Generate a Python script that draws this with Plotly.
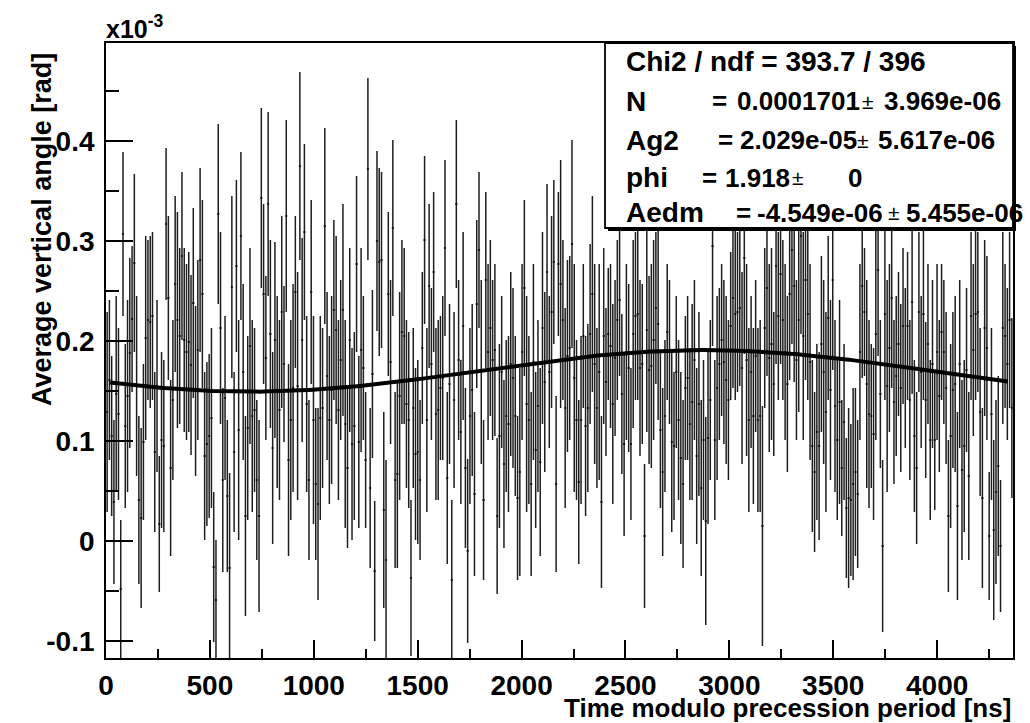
import numpy as np
import plotly.graph_objects as go

# ---------------- data (units of 1e-3 rad) ----------------
t_min, t_max = 0.0, 4365.0          # time modulo precession period [ns]
n_bins = 400

angle_mean = [
    # 0-39
    0.129, 0.161, 0.105, 0.039, 0.147, 0.127, -0.048, 0.307, 0.115, 0.145,
    0.188, 0.222, 0.278, 0.155, 0.041, 0.023, 0.099, 0.203, 0.221, 0.219,
    0.225, 0.089, 0.155, 0.017, 0.101, 0.095, 0.317, 0.243, 0.073, 0.141,
    0.257, 0.221, 0.205, 0.285, 0.201, 0.189, 0.199, 0.176, 0.238, 0.150,
    # 40-79
    0.191, 0.281, 0.247, 0.085, 0.097, 0.105, 0.123, -0.026, -0.059, 0.327,
    0.213, 0.061, 0.143, 0.045, -0.027, 0.254, 0.089, 0.275, 0.111, 0.305,
    0.169, 0.025, 0.113, 0.195, 0.125, 0.131, 0.061, 0.025, 0.343, 0.247,
    0.183, 0.337, 0.207, 0.093, 0.201, 0.149, 0.131, 0.229, 0.177, 0.325,
    # 80-119
    0.081, 0.121, 0.153, 0.249, 0.155, 0.375, 0.201, 0.309, 0.137, 0.061,
    0.249, 0.121, 0.057, 0.037, 0.123, 0.133, 0.315, 0.165, 0.121, 0.151,
    0.231, 0.211, 0.131, 0.181, 0.231, 0.117, 0.073, 0.201, 0.097, 0.115,
    0.277, 0.099, 0.191, 0.173, 0.081, 0.372, 0.053, 0.167, -0.030, 0.300,
    # 120-159
    0.279, 0.281, 0.031, -0.019, 0.247, 0.179, 0.313, 0.061, 0.067, 0.145,
    0.209, 0.205, 0.137, 0.121, -0.037, 0.133, 0.087, 0.089, 0.061, 0.193,
    0.301, 0.121, 0.255, 0.177, 0.269, 0.127, 0.131, 0.153, 0.163, 0.293,
    0.063, 0.157, -0.039, 0.141, 0.337, 0.181, 0.109, 0.215, 0.073, -0.010,
    # 160-199
    0.125, 0.151, 0.047, 0.237, 0.291, 0.169, 0.041, 0.261, 0.189, 0.213,
    0.181, 0.191, 0.025, 0.105, 0.169, 0.077, 0.125, 0.117, 0.177, 0.163,
    0.125, 0.043, 0.069, 0.189, 0.253, 0.137, 0.121, 0.057, 0.179, 0.091,
    0.135, 0.079, 0.213, 0.159, 0.269, 0.169, 0.229, 0.279, 0.057, 0.277,
    # 200-239
    0.257, 0.221, 0.133, 0.185, 0.193, 0.297, 0.163, 0.121, 0.059, 0.121,
    0.205, 0.115, 0.133, 0.207, 0.247, 0.177, 0.133, 0.169, 0.039, 0.205,
    0.159, 0.207, 0.195, 0.137, 0.183, 0.221, 0.241, 0.147, 0.097, 0.189,
    0.173, 0.097, 0.207, 0.225, 0.227, 0.173, 0.177, 0.005, 0.211, 0.171,
    # 240-279
    0.175, 0.201, 0.233, 0.217, 0.111, 0.069, 0.125, 0.209, 0.189, 0.099,
    0.095, 0.169, 0.121, 0.083, 0.057, 0.153, 0.163, 0.117, 0.139, 0.181,
    0.085, 0.137, 0.053, 0.101, 0.020, 0.103, 0.141, 0.295, 0.101, 0.153,
    0.177, 0.201, 0.179, 0.161, 0.141, 0.215, 0.243, 0.227, 0.229, 0.233,
    # 280-319
    0.173, 0.283, 0.181, 0.121, 0.169, 0.125, 0.185, 0.121, 0.125, 0.015,
    0.213, 0.253, 0.183, 0.197, 0.157, 0.275, 0.225, 0.267, 0.221, 0.189,
    0.157, 0.247, 0.291, 0.255, 0.181, 0.221, 0.305, 0.205, 0.261, 0.227,
    0.179, 0.095, 0.069, 0.109, 0.095, 0.197, 0.169, 0.129, 0.223, 0.151,
    # 320-359
    0.261, 0.135, 0.101, 0.139, 0.073, 0.119, 0.033, 0.043, 0.041, 0.057,
    0.069, 0.047, 0.189, 0.255, 0.229, 0.157, 0.127, 0.125, 0.107, 0.207,
    0.271, 0.147, -0.005, 0.227, 0.155, 0.193, 0.243, 0.139, 0.165, 0.197,
    0.153, 0.215, 0.173, 0.215, 0.141, 0.239, 0.105, 0.073, 0.229, 0.169,
    # 360-399
    0.227, 0.141, 0.197, 0.101, 0.177, 0.101, 0.189, 0.145, 0.209, 0.189,
    0.153, 0.025, 0.105, 0.151, 0.157, 0.035, 0.177, 0.071, 0.095, 0.171,
    0.065, 0.225, 0.191, 0.227, 0.229, 0.129, 0.043, 0.213, 0.193, 0.005,
    0.127, 0.011, 0.049, 0.075, -0.005, 0.213, 0.205, 0.177, 0.221, 0.133,
]

angle_err = [
    .100, .080, .080, .082, .098, .086, .069, .082, .082, .096, .095, .073, .089, .090, .084, .090, .078, .102, .080, .086,
    .084, .080, .086, .068, .088, .086, .076, .082, .088, .080, .088, .108, .088, .084, .092, .088, .090, .090, .095, .085,
    .090, .092, .094, .084, .082, .082, .090, .075, .060, .090, .096, .092, .082, .076, .095, .091, .080, .086, .110, .084,
    .088, .100, .092, .098, .096, .082, .080, .096, .090, .090, .082, .092, .094, .096, .098, .096, .090, .096, .078, .096,
    .096, .100, .104, .076, .114, .094, .102, .088, .088, .080, .092, .104, .076, .096, .102, .080, .098, .084, .084, .094,
    .090, .094, .090, .080, .106, .104, .080, .092, .096, .094, .088, .086, .102, .072, .068, .091, .080, .084, .070, .090,
    .094, .088, .098, .100, .082, .082, .088, .088, .094, .104, .092, .088, .084, .088, .078, .080, .086, .092, .080, .076,
    .084, .092, .082, .076, .080, .086, .090, .072, .082, .088, .086, .080, .080, .088, .084, .080, .072, .094, .080, .092,
    .088, .086, .082, .084, .078, .092, .080, .088, .088, .088, .080, .086, .078, .092, .076, .084, .076, .088, .092, .090,
    .080, .082, .104, .088, .088, .108, .084, .092, .098, .078, .086, .094, .096, .090, .088, .076, .096, .082, .088, .072,
    .124, .080, .100, .096, .092, .104, .114, .080, .082, .084, .072, .090, .084, .090, .098, .100, .080, .108, .086, .088,
    .074, .066, .082, .100, .078, .080, .076, .080, .092, .088, .084, .076, .094, .084, .086, .088, .080, .072, .102, .094,
    .102, .100, .076, .096, .078, .084, .076, .068, .072, .090, .074, .076, .080, .086, .084, .072, .082, .076, .098, .080,
    .088, .092, .088, .080, .104, .086, .080, .100, .080, .092, .076, .076, .082, .084, .080, .074, .090, .086, .080, .078,
    .096, .096, .096, .092, .076, .088, .076, .092, .096, .120, .080, .088, .094, .096, .072, .098, .084, .090, .080, .088,
    .088, .086, .094, .096, .080, .092, .098, .104, .100, .086, .098, .086, .080, .088, .094, .088, .092, .100, .082, .090,
    .090, .086, .080, .102, .068, .078, .070, .090, .076, .096, .084, .074, .088, .092, .064, .104, .094, .072, .086, .106,
    .086, .074, .086, .086, .106, .084, .090, .082, .080, .072, .084, .078, .080, .074, .080, .092, .076, .076, .080, .076,
    .086, .078, .080, .080, .084, .070, .088, .076, .068, .072, .076, .076, .092, .078, .088, .094, .084, .090, .086, .082,
    .084, .084, .086, .086, .080, .084, .090, .088, .092, .064, .086, .090, .092, .090, .066, .096, .072, .076, .088, .090,
]

# fit parameters shown in the stats box (converted to 1e-3 rad)
fit_N = 0.1701
fit_Ag2 = 0.02029
fit_phi = 1.918
fit_Aedm = -0.004549
fit_range = [20.0, 4340.0]

x_ticks = [0, 500, 1000, 1500, 2000, 2500, 3000, 3500, 4000]
x_ticktext = ["0", "500", "1000", "1500", "2000", "2500", "3000", "3500", "4000"]
y_ticks = [-0.1, 0.0, 0.1, 0.2, 0.3, 0.4]
y_ticktext = ["-0.1", "0", "0.1", "0.2", "0.3", "0.4"]

stats_title = "Chi2 / ndf = 393.7 / 396"
stats_names = ["N", "Ag2", "phi", "Aedm"]
stats_values = ["0.0001701", "2.029e-05", "1.918", "-4.549e-06"]
stats_errors = ["3.969e-06", "5.617e-06", "0", "5.455e-06"]

# ---------------- build ----------------
n = min(len(angle_mean), len(angle_err))
bin_w = (t_max - t_min) / n_bins
t_centers = t_min + (np.arange(n) + 0.5) * bin_w

t_fit = np.linspace(fit_range[0], fit_range[1], 600)
omega = 2 * np.pi / (t_max - t_min)
y_fit = fit_N + fit_Ag2 * np.cos(omega * t_fit + fit_phi) + fit_Aedm * np.sin(omega * t_fit + fit_phi)

# pixel geometry of the frame
L, R, T, B = 106, 1013, 43, 658
W, H = 1030, 723


def px(x):
    return (x - L) / (R - L)


def py(y):
    return (B - y) / (B - T)


FONT = "Liberation Sans"
fig = go.Figure()

fig.add_trace(go.Scatter(
    x=t_centers, y=angle_mean[:n], mode="markers",
    marker=dict(size=2, color="#111"),
    error_y=dict(type="data", array=angle_err[:n], width=0, thickness=1.5, color="#1e1e1e"),
    error_x=dict(type="constant", value=bin_w / 2, width=0, thickness=1, color="#111"),
    showlegend=False, hoverinfo="skip",
))

fig.add_trace(go.Scatter(
    x=t_fit, y=y_fit, mode="lines", line=dict(color="black", width=4),
    showlegend=False, hoverinfo="skip",
))

tickfont = dict(family=FONT, size=28, color="black", weight="bold")

fig.update_layout(
    width=W, height=H,
    margin=dict(l=L, r=W - R, t=T, b=H - B, pad=0),
    paper_bgcolor="white", plot_bgcolor="white",
    xaxis=dict(
        range=[t_min, t_max], showgrid=False, zeroline=False,
        showline=True, mirror=True, linecolor="black", linewidth=1.8,
        ticks="inside", ticklen=18, tickwidth=1.5, tickcolor="black",
        tickmode="array", tickvals=x_ticks, ticktext=x_ticktext, tickfont=tickfont,
        ticklabelstandoff=1,
        minor=dict(dtick=250, tick0=0, ticks="inside", ticklen=9, tickwidth=1.5,
                   tickcolor="black", showgrid=False),
    ),
    yaxis=dict(
        range=[-0.117, 0.498], showgrid=False, zeroline=False,
        showline=True, mirror=True, linecolor="black", linewidth=1.8,
        ticks="inside", ticklen=27, tickwidth=1.5, tickcolor="black",
        tickmode="array", tickvals=y_ticks, ticktext=y_ticktext, tickfont=tickfont,
        ticklabelstandoff=4,
        minor=dict(dtick=0.05, tick0=0, ticks="inside", ticklen=13, tickwidth=1.5,
                   tickcolor="black", showgrid=False),
    ),
)

# stats box (shadow + box), drawn over the data
fig.add_shape(type="rect", xref="paper", yref="paper",
              x0=px(608), x1=px(1016), y0=py(231), y1=py(46),
              fillcolor="black", line=dict(width=0), layer="above")
fig.add_shape(type="rect", xref="paper", yref="paper",
              x0=px(605), x1=px(1013), y0=py(228), y1=py(43),
              fillcolor="white", line=dict(color="black", width=1.8), layer="above")

lfont = dict(family=FONT, size=28, color="black", weight="bold")
nfont = dict(family=FONT, size=26, color="black", weight="bold")
pmfont = dict(family=FONT, size=21, color="black")


def ann(text, x, y, font, anchor="left"):
    fig.add_annotation(text=text, x=px(x), y=py(y), xref="paper", yref="paper",
                       xanchor=anchor, yanchor="middle", showarrow=False, font=font)


ann(stats_title, 624, 62, lfont)
row_y = [101, 140, 178, 213]
eq_x = [710, 716, 700, 734]
num_x = [735, 738, 723, 755]
pm_x = [868, 863, 798, 894]
err_x = [882, 876, 846, 904]
for i in range(len(stats_names)):
    ann(stats_names[i], 624, row_y[i], lfont)
    ann("=", eq_x[i], row_y[i], nfont)
    ann(stats_values[i], num_x[i], row_y[i], nfont)
    ann("±", pm_x[i], row_y[i], pmfont, anchor="center")
    ann(stats_errors[i], err_x[i], row_y[i], nfont)

# axis titles and exponent
ann("Time modulo precession period [ns]", 1013, 708,
    dict(family=FONT, size=26, color="black", weight="bold"), anchor="right")
fig.add_annotation(text="Average vertical angle [rad]", x=px(42), y=py(230),
                   xref="paper", yref="paper", xanchor="center", yanchor="middle",
                   textangle=-90, showarrow=False,
                   font=dict(family=FONT, size=27, color="black", weight="bold"))
ann("x10<sup>-3</sup>", 104, 27, dict(family=FONT, size=25, color="black", weight="bold"))

fig.write_html("out.html", config={"displayModeBar": False},
               post_script="document.body.style.margin='0';document.body.style.padding='0';")
